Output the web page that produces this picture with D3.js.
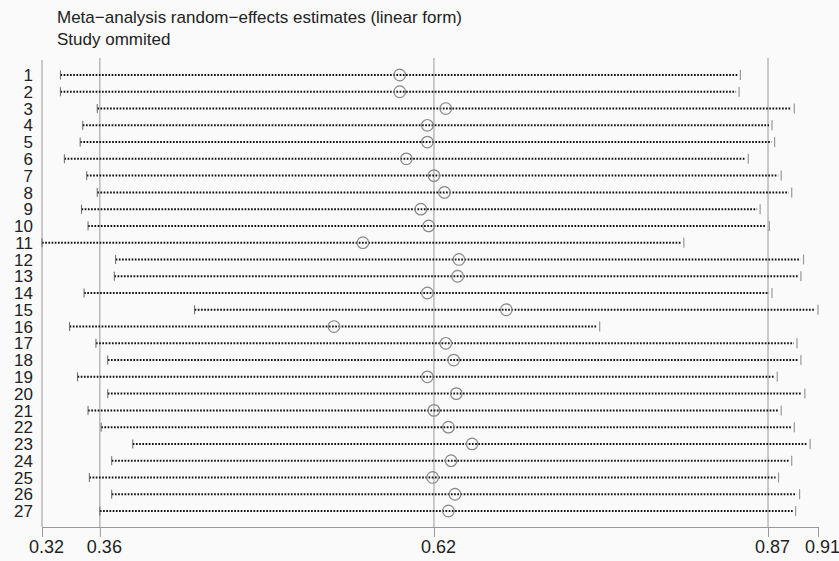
<!DOCTYPE html>
<html>
<head>
<meta charset="utf-8">
<script src="https://cdn.jsdelivr.net/npm/d3@7"></script>
<style>
  body { margin: 0; background: #fafafa; }
  svg { font-family: "Liberation Sans", Arial, sans-serif; }
</style>
</head>
<body>
<div id="chart"></div>
<script>
// studies omitted, in order
var studies = ["1","2","3","4","5","6","7","8","9","10","11","12","13","14","15","16","17","18","19","20","21","22","23","24","25","26","27"];

// pooled estimate with the study left out
var estimate = [0.590, 0.590, 0.625, 0.611, 0.611, 0.595, 0.616, 0.624, 0.606, 0.612, 0.562, 0.635, 0.634, 0.611, 0.671, 0.540, 0.625, 0.631, 0.611, 0.633, 0.616, 0.627, 0.645, 0.629, 0.615, 0.632, 0.627];

// lower and upper 95% CI
var lower = [0.332, 0.332, 0.360, 0.349, 0.347, 0.335, 0.352, 0.360, 0.348, 0.353, 0.318, 0.374, 0.373, 0.350, 0.434, 0.339, 0.359, 0.368, 0.345, 0.368, 0.353, 0.363, 0.387, 0.371, 0.354, 0.371, 0.362];
var upper = [0.849, 0.848, 0.890, 0.873, 0.875, 0.855, 0.880, 0.888, 0.864, 0.871, 0.806, 0.897, 0.895, 0.873, 0.908, 0.742, 0.892, 0.895, 0.877, 0.898, 0.880, 0.890, 0.902, 0.888, 0.878, 0.894, 0.891];

// axis: min lower, overall lower, overall estimate, overall upper, max upper
var tickValues = [0.318, 0.362, 0.616, 0.870, 0.908];
var refLines = [0.362, 0.616, 0.870];

var titleLines = ["Meta\u2212analysis random\u2212effects estimates (linear form)", "Study ommited"];

var width = 839, height = 561;

var svg = d3.select("#chart")
  .append("svg")
  .attr("width", width)
  .attr("height", height);

svg.append("rect").attr("width", width).attr("height", height).attr("fill", "#fafafa");

var x = d3.scaleLinear()
  .domain([tickValues[0], tickValues[tickValues.length - 1]])
  .range([42, 818]);

var y = d3.scalePoint()
  .domain(studies)
  .range([75, 511]);

var plotTop = 58, plotBottom = 527;

// titles
svg.selectAll(".title")
  .data(titleLines)
  .enter().append("text")
  .attr("x", 57)
  .attr("y", function(d, i) { return 23 + i * 22; })
  .style("font-size", "17px")
  .attr("fill", "#222")
  .text(function(d) { return d; });

// left axis line
svg.append("line")
  .attr("x1", x(tickValues[0])).attr("x2", x(tickValues[0]))
  .attr("y1", plotTop + 2).attr("y2", plotBottom)
  .attr("stroke", "#999").attr("stroke-width", 1);

// reference lines
svg.selectAll(".ref")
  .data(refLines)
  .enter().append("line")
  .attr("x1", function(d) { return x(d); })
  .attr("x2", function(d) { return x(d); })
  .attr("y1", plotTop).attr("y2", plotBottom)
  .attr("stroke", "#999").attr("stroke-width", 1);

// bottom axis
var xAxis = svg.append("g")
  .attr("transform", "translate(0," + plotBottom + ")")
  .call(d3.axisBottom(x)
    .tickValues(tickValues)
    .tickFormat(d3.format(".2f"))
    .tickSize(10)
    .tickSizeOuter(0)
    .tickPadding(3));

xAxis.select(".domain").attr("stroke", "#999");
xAxis.selectAll(".tick line").attr("stroke", "#999");
xAxis.selectAll(".tick text")
  .attr("fill", "#222")
  .attr("dx", 4)
  .style("font-size", "18px");

// study labels
svg.selectAll(".lab")
  .data(studies)
  .enter().append("text")
  .attr("x", 33)
  .attr("y", function(d) { return y(d); })
  .attr("dy", "0.36em")
  .attr("text-anchor", "end")
  .style("font-size", "17px")
  .attr("fill", "#222")
  .text(function(d) { return d; });

var rows = studies.map(function(s, i) {
  return { study: s, est: estimate[i], lo: lower[i], hi: upper[i] };
});

var g = svg.selectAll(".row")
  .data(rows)
  .enter().append("g");

// dotted CI
g.append("line")
  .attr("x1", function(d) { return x(d.lo); })
  .attr("x2", function(d) { return x(d.hi) - 3; })
  .attr("y1", function(d) { return y(d.study); })
  .attr("y2", function(d) { return y(d.study); })
  .attr("stroke", "#111")
  .attr("stroke-width", 2)
  .attr("stroke-dasharray", "1.7,1.5");

// caps
g.append("line")
  .attr("x1", function(d) { return x(d.lo); })
  .attr("x2", function(d) { return x(d.lo); })
  .attr("y1", function(d) { return y(d.study) - 4.5; })
  .attr("y2", function(d) { return y(d.study) + 4.5; })
  .attr("stroke", "#666").attr("stroke-width", 1);

g.append("line")
  .attr("x1", function(d) { return x(d.hi); })
  .attr("x2", function(d) { return x(d.hi); })
  .attr("y1", function(d) { return y(d.study) - 5; })
  .attr("y2", function(d) { return y(d.study) + 5; })
  .attr("stroke", "#999").attr("stroke-width", 1.2);

// estimates
g.append("circle")
  .attr("cx", function(d) { return x(d.est); })
  .attr("cy", function(d) { return y(d.study); })
  .attr("r", 5.8)
  .attr("fill", "none")
  .attr("stroke", "#888")
  .attr("stroke-width", 1.2);
</script>
</body>
</html>
